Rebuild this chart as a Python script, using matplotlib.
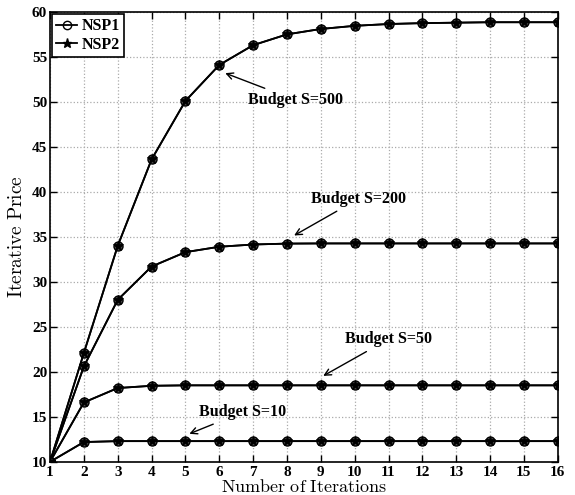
import numpy as np
import matplotlib
matplotlib.use("Agg")
import matplotlib.pyplot as plt
from matplotlib.lines import Line2D

plt.rcParams['mathtext.fontset'] = 'cm'

iters = np.arange(1, 17)
# price per iteration for each budget (NSP1 and NSP2 coincide)
s500 = [10, 22.1, 34.0, 43.6, 50.1, 54.1, 56.3, 57.5, 58.1, 58.45, 58.65, 58.75, 58.8, 58.85, 58.85, 58.85]
s200 = [10, 20.6, 28.0, 31.7, 33.3, 33.9, 34.15, 34.25, 34.27, 34.27, 34.27, 34.27, 34.27, 34.27, 34.27, 34.27]
s50 = [10, 16.6, 18.2, 18.45, 18.5, 18.5, 18.5, 18.5, 18.5, 18.5, 18.5, 18.5, 18.5, 18.5, 18.5, 18.5]
s10 = [10, 12.2, 12.3, 12.3, 12.3, 12.3, 12.3, 12.3, 12.3, 12.3, 12.3, 12.3, 12.3, 12.3, 12.3, 12.3]
budgets = [s500, s200, s50, s10]

xticks = list(range(1, 17))
yticks = list(range(10, 61, 5))

fig = plt.figure(figsize=(5.75, 4.95), dpi=100)
ax = fig.add_axes([0.087, 0.067, 0.883, 0.909])

for s in budgets:
    ax.plot(iters, s, '-', color='k', lw=1.3, marker='o', ms=6.5,
            mfc='#555555', mec='k', mew=1.0)
    ax.plot(iters, s, '-', color='k', lw=1.3, marker='*', ms=7,
            mfc='k', mec='k', mew=0.6)

ax.set_xlim(1, 16)
ax.set_ylim(10, 60)
ax.set_xticks(xticks)
ax.set_yticks(yticks)
ax.tick_params(direction='in', top=True, right=True, length=5, width=1)
ax.tick_params(axis='x', pad=3)
ax.tick_params(axis='y', pad=2)
for lab in ax.get_xticklabels() + ax.get_yticklabels():
    lab.set_fontfamily('Liberation Serif')
    lab.set_fontweight('bold')
    lab.set_fontsize(11)
ax.grid(True, ls=':', color='#aaaaaa', lw=0.9)
for sp in ax.spines.values():
    sp.set_linewidth(1.2)

ax.set_xlabel(r'$\mathrm{Number\ of\ Iterations}$', fontsize=13, va='center')
ax.xaxis.set_label_coords(0.5, -0.055)
ax.set_ylabel(r'$\mathrm{Iterative\ Price}$', fontsize=14, labelpad=4)

tfont = dict(family='Liberation Serif', weight='bold', fontsize=11.5)
arrow = dict(arrowstyle='->', color='k', lw=1.0)
ax.annotate('Budget S=500', xy=(6.1, 53.3), xytext=(6.85, 50.2), ha='left', va='center',
            arrowprops=arrow, **tfont)
ax.annotate('Budget S=200', xy=(8.14, 35.0), xytext=(8.7, 39.2), ha='left', va='center',
            arrowprops=arrow, **tfont)
ax.annotate('Budget S=50', xy=(9.0, 19.4), xytext=(9.7, 23.6), ha='left', va='center',
            arrowprops=arrow, **tfont)
ax.annotate('Budget S=10', xy=(5.04, 13.0), xytext=(5.4, 15.5), ha='left', va='center',
            arrowprops=arrow, **tfont)

handles = [Line2D([], [], color='k', lw=1.3, marker='o', ms=6, mfc='none', mec='k'),
           Line2D([], [], color='k', lw=1.3, marker='*', ms=6.5, mfc='k', mec='k')]
leg = ax.legend(handles, ['NSP1', 'NSP2'], loc='upper left', fancybox=False,
                edgecolor='k', framealpha=1, handlelength=1.3, handletextpad=0.3,
                borderpad=0.25, labelspacing=0.15, borderaxespad=0.15,
                prop=dict(family='Liberation Serif', weight='bold', size=11.5))
leg.get_frame().set_linewidth(1.2)

fig.savefig('out.png', dpi=100)
